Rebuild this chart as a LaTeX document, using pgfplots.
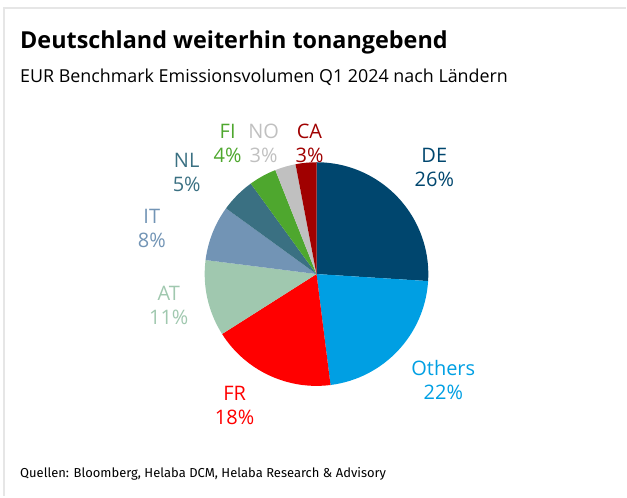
\documentclass[border=0pt]{standalone}
\usepackage{fontspec}
\setmainfont{Open Sans}
\newfontfamily\srcfont{Fira Sans}
\usepackage{pgfplots}
\usepackage{pgfplotstable}
\pgfplotsset{compat=1.18}
\definecolor{cDE}{HTML}{00466E}
\definecolor{cOT}{HTML}{009FE3}
\definecolor{cFR}{HTML}{FF0000}
\definecolor{cAT}{HTML}{A0C8AF}
\definecolor{cIT}{HTML}{7294B5}
\definecolor{cNL}{HTML}{3A7082}
\definecolor{cFI}{HTML}{4EA72E}
\definecolor{cNO}{HTML}{C0C0C0}
\definecolor{cCA}{HTML}{A00000}
\definecolor{frame}{HTML}{E6E6E6}
\pgfplotstableread{
name value color lx ly
DE 26 cDE 435 329
Others 22 cOT 444 116
FR 18 cFR 235 91
AT 11 cAT 169 191
IT 8 cIT 152 268
NL 5 cNL 187 324
FI 4 cFI 228 353
NO 3 cNO 264 353
CA 3 cCA 310 353
}\piedata
\begin{document}
\begin{tikzpicture}
\begin{axis}[x=1pt, y=1pt, xmin=0, xmax=627, ymin=0, ymax=497,
  hide axis, clip=false]
\path (axis cs:0,0) rectangle (axis cs:627,497);
\draw[frame, line width=2pt] (axis cs:4,0) -- (axis cs:4,489) -- (axis cs:627,489);
\node[anchor=base west, inner sep=0pt, font=\fontsize{23.4}{26}\selectfont\bfseries] at (axis cs:20,448) {Deutschland weiterhin tonangebend};
\node[anchor=base west, inner sep=0pt, font=\fontsize{17.9}{20}\selectfont] at (axis cs:20,414) {EUR Benchmark Emissionsvolumen Q1 2024 nach Ländern};
\node[anchor=base west, inner sep=0pt, font=\srcfont\fontsize{13}{16}\selectfont] at (axis cs:20,19) {Quellen: Bloomberg, Helaba DCM, Helaba Research \& Advisory};
\pgfplotstablegetrowsof{\piedata}
\pgfmathtruncatemacro{\lastrow}{\pgfplotsretval-1}
\gdef\cum{0}
\pgfplotsforeachungrouped \i in {0,...,\lastrow}{%
  \pgfplotstablegetelem{\i}{value}\of\piedata \let\val\pgfplotsretval
  \pgfplotstablegetelem{\i}{color}\of\piedata \let\col\pgfplotsretval
  \pgfplotstablegetelem{\i}{name}\of\piedata \let\nam\pgfplotsretval
  \pgfplotstablegetelem{\i}{lx}\of\piedata \let\lx\pgfplotsretval
  \pgfplotstablegetelem{\i}{ly}\of\piedata \let\ly\pgfplotsretval
  \pgfmathsetmacro\sa{90-3.6*\cum}%
  \pgfmathsetmacro\ea{90-3.6*(\cum+\val)}%
  \pgfmathsetmacro\newcum{\cum+\val}%
  \global\let\cum\newcum
  \edef\doslice{\noexpand\fill[\col] (axis cs:317,222.5) -- ++(\sa:112pt) arc[start angle=\sa, end angle=\ea, radius=112pt] -- cycle;
    \noexpand\node[text=\col, align=center, font=\noexpand\fontsize{20}{24}\noexpand\selectfont] at (axis cs:\lx,\ly) {\nam\noexpand\\\val\noexpand\%};}%
  \doslice
}
\end{axis}
\end{tikzpicture}
\end{document}
